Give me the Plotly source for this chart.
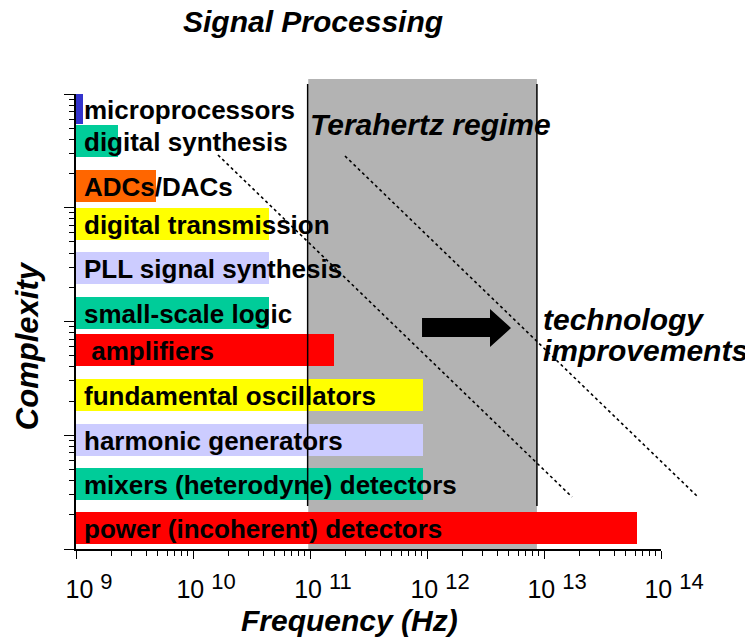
import math
import plotly.graph_objects as go

# ---------------- data ----------------
categories = [
    "microprocessors",
    "digital synthesis",
    "ADCs/DACs",
    "digital transmission",
    "PLL signal synthesis",
    "small-scale logic",
    "\u00a0amplifiers",
    "fundamental oscillators",
    "harmonic generators",
    "mixers (heterodyne) detectors",
    "power (incoherent) detectors",
]
max_freq_hz = [1.15e9, 2.3e9, 4.8e9, 4.5e10, 4.5e10, 4.5e10, 1.6e11,
               9.3e11, 9.3e11, 9.3e11, 6.2e13]
bar_colors = ["#3333cc", "#00cc99", "#ff6600", "#ffff00", "#ccccff", "#00cc99",
              "#ff0000", "#ffff00", "#ccccff", "#00cc99", "#ff0000"]
base_freq_hz = 1e9
terahertz_range_hz = [1e11, 8.7e12]
x_tick_exponents = [9, 10, 11, 12, 13, 14]
x_tick_labels = ["10 <span style='font-size:22px;baseline-shift:9px'>%d</span>" % e
                 for e in x_tick_exponents]

# ---------------- layout helpers ----------------
row_pos = [10.0, 9.273, 8.25, 7.386, 6.386, 5.375, 4.523, 3.5, 2.477, 1.477, 0.477]
row_width = [0.68] + [0.727] * 10
y_span = 10.341
x_log_range = [9, 14]

def xpaper(v):
    return (math.log10(v) - x_log_range[0]) / (x_log_range[1] - x_log_range[0])

FONT = "Arial, Liberation Sans, Helvetica, sans-serif"

fig = go.Figure()

fig.add_trace(go.Bar(
    orientation="h",
    y=row_pos,
    x=[v - base_freq_hz for v in max_freq_hz],
    base=base_freq_hz,
    width=row_width,
    marker=dict(color=bar_colors, line=dict(width=0)),
    hoverinfo="skip",
    showlegend=False,
))

# dummy trace to carry the log "complexity" axis
fig.add_trace(go.Scatter(x=[base_freq_hz], y=[1], yaxis="y2", mode="markers",
                         marker=dict(opacity=0), hoverinfo="skip", showlegend=False))

shapes = []
# terahertz regime shading
tx0, tx1 = xpaper(terahertz_range_hz[0]), xpaper(terahertz_range_hz[1])
shapes.append(dict(type="rect", xref="paper", yref="paper", x0=tx0 - 0.003, x1=tx1,
                   y0=0, y1=1.033, fillcolor="#b3b3b3", line=dict(width=0), layer="below"))
for xx in (tx0 - 0.004, tx1):
    shapes.append(dict(type="line", xref="paper", yref="paper", x0=xx, x1=xx,
                       y0=0.0945, y1=1.022, line=dict(color="black", width=1.5), layer="above"))
# technology trend lines
shapes.append(dict(type="line", xref="paper", yref="paper", x0=0.2427, y0=0.866, x1=0.8479, y1=0.1143,
                   line=dict(color="black", width=1.6, dash="dot"), layer="above"))
shapes.append(dict(type="line", xref="paper", yref="paper", x0=0.4598, y0=0.8637, x1=1.0632, y1=0.1143,
                   line=dict(color="black", width=1.6, dash="dot"), layer="above"))
# arrow
shapes.append(dict(type="path", xref="paper", yref="paper",
                   path="M 0.5915 0.5077 L 0.7077 0.5077 L 0.7077 0.5275 L 0.7436 0.4857 "
                        "L 0.7077 0.4440 L 0.7077 0.4659 L 0.5915 0.4659 Z",
                   fillcolor="black", line=dict(width=0), layer="above"))

annotations = []
for name, yp in zip(categories, row_pos):
    annotations.append(dict(x=math.log10(base_freq_hz), y=yp, xref="x", yref="y", text=name,
                            showarrow=False, xanchor="left", yanchor="middle", xshift=6, yshift=-1,
                            font=dict(family=FONT, size=26, color="black", weight="bold")))

def itext(text, x, y, size, xanchor="left", angle=0):
    return dict(x=x, y=y, xref="paper", yref="paper", text=text, showarrow=False,
                xanchor=xanchor, yanchor="middle", textangle=angle,
                font=dict(family=FONT, size=size, color="black", weight="bold", style="italic"))

annotations.append(itext("Signal Processing", 0.405, 1.160, 30, xanchor="center"))
annotations.append(itext("Terahertz regime", 0.397, 0.934, 30))
annotations.append(itext("technology", 0.795, 0.505, 30))
annotations.append(itext("improvements", 0.795, 0.436, 30))
annotations.append(itext("Frequency (Hz)", 0.4667, -0.158, 30, xanchor="center"))
annotations.append(itext("Complexity", -0.0838, 0.448, 31, xanchor="center", angle=-90))

# the page body adds an 8px offset, so the figure is 8px smaller with 8px smaller left/top margins
fig.update_layout(
    width=745, height=631, autosize=False,
    margin=dict(l=68, r=92, t=86, b=90),
    paper_bgcolor="white", plot_bgcolor="white",
    bargap=0,
    xaxis=dict(type="log", range=x_log_range, showgrid=False, zeroline=False,
               showline=True, linecolor="black", linewidth=1.5,
               ticks="outside", ticklen=8, tickwidth=1.2, tickcolor="black",
               tickmode="array", tickvals=[10 ** e for e in x_tick_exponents], ticktext=x_tick_labels,
               tickfont=dict(family=FONT, size=25, color="black"),
               ticklabelshift=13, ticklabelstandoff=9,
               minor=dict(dtick="D1", ticks="outside", ticklen=5, tickwidth=1, tickcolor="black",
                          showgrid=False),
               fixedrange=True),
    yaxis=dict(visible=False, range=[0, y_span], fixedrange=True),
    yaxis2=dict(type="log", range=[0, 4], overlaying="y", side="left", anchor="x",
                showgrid=False, zeroline=False, showline=True, linecolor="black", linewidth=1.5,
                ticks="outside", ticklen=10, tickwidth=1.2, tickcolor="black", dtick=1,
                showticklabels=False,
                minor=dict(dtick="D1", ticks="outside", ticklen=5, tickwidth=1, tickcolor="black",
                           showgrid=False),
                fixedrange=True),
    shapes=shapes,
    annotations=annotations,
)

fig.write_html("out.html")
